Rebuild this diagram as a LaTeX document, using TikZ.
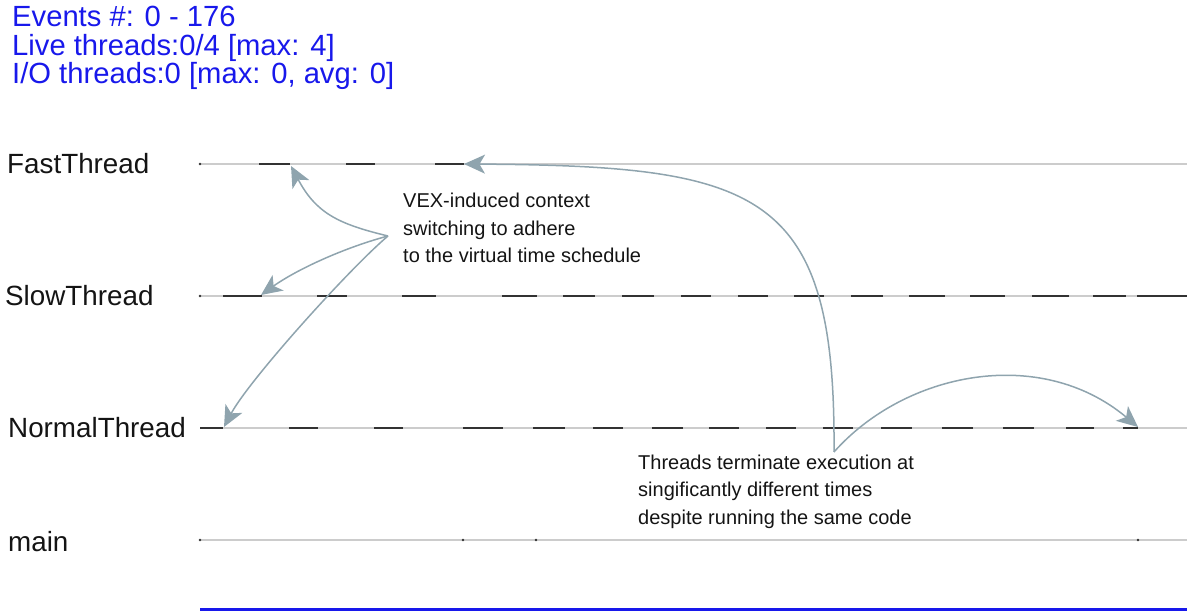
\documentclass[tikz,border=0pt]{standalone}
\usepackage{fontspec}
\setmainfont{Liberation Sans}
\usetikzlibrary{arrows.meta}
\definecolor{hdrblue}{RGB}{24,24,235}
\definecolor{lanegray}{RGB}{204,204,204}
\definecolor{runcol}{RGB}{50,50,50}
\definecolor{callout}{RGB}{143,164,174}
\definecolor{inkcol}{RGB}{20,20,20}
\begin{document}
\begin{tikzpicture}[x=1pt,y=-1pt,
  lane/.style={draw=lanegray, line width=2pt},
  runseg/.style={draw=runcol, line width=2.4pt},
  tick/.style={fill=runcol, draw=none},
  callarrow/.style={draw=callout, line width=1.5pt,
    -{Stealth[length=21pt,width=19pt,inset=5.5pt,fill=callout]}},
  threadlabel/.style={anchor=base west, inner sep=0pt, text=inkcol,
    font=\fontsize{27.8}{30}\selectfont},
  hdrline/.style={anchor=base west, inner sep=0pt, text=hdrblue,
    font=\fontsize{29.2}{30}\selectfont},
  note/.style={anchor=base west, inner sep=0pt, align=left, text=inkcol,
    font=\fontsize{20}{27.5}\selectfont}]
\useasboundingbox (0,0) rectangle (1187,612);

% status header
\node[hdrline] (hdr1) at (12,27) {Events \#: 0 - 176};
\node[hdrline] (hdr2) at (12,56) {Live threads:0/4 [max: 4]};
\node[hdrline] (hdr3) at (12,84) {I/O threads:0 [max: 0, avg: 0]};

% thread names
\node[threadlabel] (fastlbl)   at (7,174)  {FastThread};
\node[threadlabel] (slowlbl)   at (5,306)  {SlowThread};
\node[threadlabel] (normallbl) at (8,438)  {NormalThread};
\node[threadlabel] (mainlbl)   at (8,551)  {main};

% timelines
\foreach \y in {164,296,428,540}
  \draw[lane] (200,\y) -- (1187,\y);

% running intervals
\foreach \a/\b in {259/290,346/375,435/464}
  \draw[runseg] (\a,164) -- (\b,164);
\foreach \a/\b in {223/262,317/347,402/436,502/537,563/595,622/654,681/711,
                   738/768,794/824,851/883,909/945,970/1005,1032/1069,
                   1093/1126,1137/1187}
  \draw[runseg] (\a,296) -- (\b,296);
\foreach \a/\b in {200/223,289/318,374/403,463/503,533/565,593/623,652/683,
                   709/739,766/796,823/853,881/912,942/973,1003/1034,
                   1066/1094,1123/1138}
  \draw[runseg] (\a,428) -- (\b,428);

% start marks and main-thread events
\foreach \y in {164,296}
  \fill[tick] (200,\y) circle (1.3);
\foreach \x in {200,463,536,1138}
  \fill[tick] (\x,540) circle (1.3);

% time axis
\draw[hdrblue, line width=3pt] (200,609) -- (1187,609);

% annotations (anchored at the baseline of the last line)
\node[note] (vexnote) at (403,263)
  {VEX-induced context\\switching to adhere\\to the virtual time schedule};
\node[note] (endnote) at (638,524)
  {Threads terminate execution at\\singificantly different times\\despite running the same code};

\coordinate (vexsrc)     at (388,236);
\coordinate (fastin)     at (291,166);
\coordinate (slowin)     at (261,295);
\coordinate (normalin)   at (224,427);
\coordinate (endsrc)     at (834,452);
\coordinate (fastout)    at (464,164);
\coordinate (normalout)  at (1138,427);

\draw[callarrow] (vexsrc) .. controls +(-50,-12) and +(25,47) .. (fastin);
\draw[callarrow] (vexsrc) .. controls +(-45,12) and +(35,-25) .. (slowin);
\draw[callarrow] (vexsrc) .. controls +(-38,32) and +(25,-47) .. (normalin);
\draw[callarrow] (endsrc) .. controls +(2,-262) and +(296,2) .. (fastout);
\draw[callarrow] (endsrc) .. controls +(71,-80) and +(-98,-82) .. (normalout);
\end{tikzpicture}
\end{document}
